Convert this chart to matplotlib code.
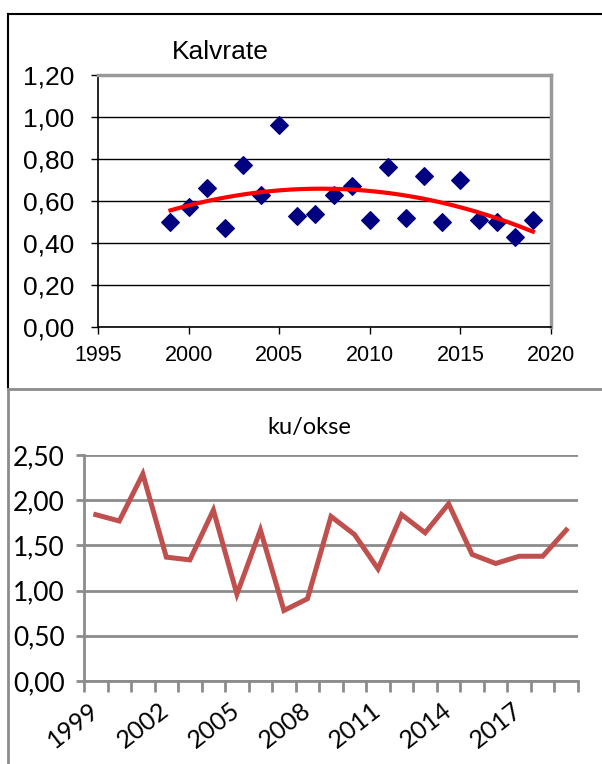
import numpy as np
import matplotlib
matplotlib.use("Agg")
import matplotlib.pyplot as plt
from matplotlib.lines import Line2D
from matplotlib.ticker import FuncFormatter, MultipleLocator

# data
years = np.arange(1999, 2020)
kalvrate = [0.50, 0.57, 0.66, 0.47, 0.77, 0.63, 0.96, 0.53, 0.54, 0.63, 0.67,
            0.51, 0.76, 0.52, 0.72, 0.50, 0.70, 0.51, 0.50, 0.43, 0.51]
ku_okse = [1.84, 1.77, 2.29, 1.37, 1.34, 1.89, 0.96, 1.67, 0.78, 0.91, 1.82,
           1.62, 1.24, 1.84, 1.64, 1.96, 1.40, 1.30, 1.38, 1.38, 1.67]
label_years = ["1999", "2002", "2005", "2008", "2011", "2014", "2017"]

W, H = 602, 764
fig = plt.figure(figsize=(W / 100, H / 100), dpi=100)


def box(x0, y0, x1, y1):
    # pixel box -> figure fractions
    return [x0 / W, 1 - y1 / H, (x1 - x0) / W, (y1 - y0) / H]


def comma(v, pos):
    return f"{v:.2f}".replace(".", ",")


# frames around the two charts
def pline(xs, ys, **kw):
    fig.add_artist(Line2D([x / W for x in xs], [1 - y / H for y in ys],
                          transform=fig.transFigure, **kw))


pline([8, 602], [13.5, 13.5], color="black", lw=1.5)
pline([8, 8], [13.5, 388], color="black", lw=1.5)
pline([8, 602], [389, 389], color="#8c8c8c", lw=2)
pline([8, 8], [389, 764], color="#8c8c8c", lw=2)

# ---- Kalvrate ----
ax1 = fig.add_axes(box(98, 75, 551, 327))
ax1.scatter(years, kalvrate, marker="D", s=80, color="#000080", zorder=3)
coef = np.polyfit(years, kalvrate, 2)
xs = np.linspace(1999, 2019, 200)
ax1.plot(xs, np.polyval(coef, xs), color="red", lw=3, zorder=4)

ax1.set_xlim(1995, 2020)
ax1.set_ylim(0, 1.2)
ax1.xaxis.set_major_locator(MultipleLocator(5))
ax1.yaxis.set_major_locator(MultipleLocator(0.2))
ax1.yaxis.set_major_formatter(FuncFormatter(comma))
ax1.grid(axis="y", color="black", lw=1)
ax1.set_axisbelow(True)
for s in ["left", "bottom"]:
    ax1.spines[s].set_color("black")
    ax1.spines[s].set_linewidth(1.2)
for s in ["top", "right"]:
    ax1.spines[s].set_color("#999999")
    ax1.spines[s].set_linewidth(2.5)
ax1.tick_params(axis="y", length=5, width=1, labelsize=19, pad=12)
ax1.tick_params(axis="x", length=5, width=1, labelsize=15.5, pad=8)
for lab in ax1.get_xticklabels() + ax1.get_yticklabels():
    lab.set_fontfamily("Liberation Sans")
fig.text(220 / W, 1 - 52 / H, "Kalvrate", ha="center", va="center",
         fontsize=19, family="Liberation Sans")

# ---- ku/okse ----
ax2 = fig.add_axes(box(84, 455, 578, 681))
pos = np.arange(len(years))
ax2.plot(pos, ku_okse, color="#C0504D", lw=3.6, solid_joinstyle="miter")
ax2.set_xlim(-0.5, len(years) - 0.5)
ax2.set_ylim(0, 2.5)
ax2.yaxis.set_major_locator(MultipleLocator(0.5))
ax2.yaxis.set_major_formatter(FuncFormatter(comma))
ax2.set_xticks(pos[::3])
ax2.set_xticklabels(label_years)
ax2.set_xticks(np.arange(-0.5, len(years)), minor=True)
ax2.grid(axis="y", color="#8c8c8c", lw=2)
ax2.set_axisbelow(True)
for s in ["top", "right"]:
    ax2.spines[s].set_visible(False)
for s in ["left", "bottom"]:
    ax2.spines[s].set_color("#8c8c8c")
    ax2.spines[s].set_linewidth(2)
ax2.tick_params(axis="y", length=6, width=2, color="#8c8c8c", labelsize=19, pad=8)
ax2.tick_params(axis="x", which="major", length=0, labelsize=18, pad=19)
ax2.tick_params(axis="x", which="minor", length=8, width=2, color="#8c8c8c")
for lab in ax2.get_yticklabels():
    lab.set_fontfamily("Lato")
for lab in ax2.get_xticklabels():
    lab.set_fontfamily("Lato")
    lab.set_rotation(38)
    lab.set_rotation_mode("anchor")
    lab.set_ha("right")
    lab.set_va("center")
fig.text(309 / W, 1 - 427 / H, "ku/okse", ha="center", va="center",
         fontsize=17, family="Lato")

fig.savefig("out.png", dpi=100)
